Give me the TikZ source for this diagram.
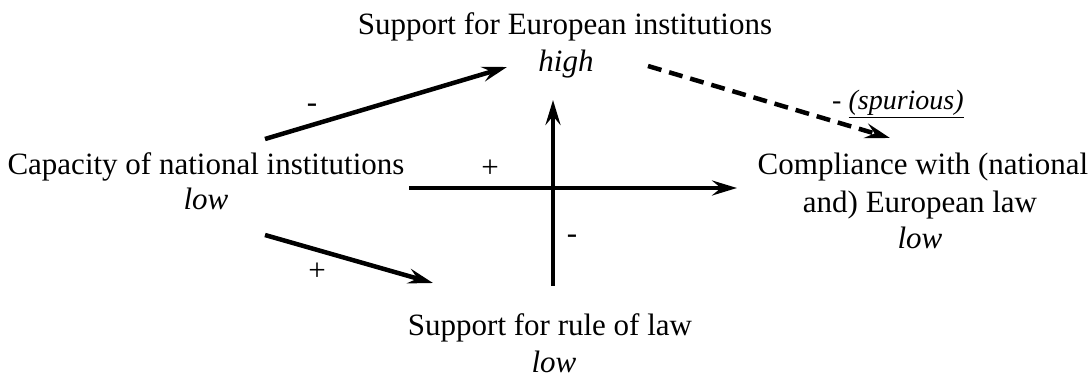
\documentclass[tikz,border=0pt]{standalone}
\usepackage{fontspec}
\setmainfont{Liberation Serif}
\usetikzlibrary{arrows.meta}
\tikzset{
  lbl/.style={inner sep=0pt, anchor=base, font=\fontsize{31}{37}\selectfont},
  sgn/.style={inner sep=0pt, anchor=base, font=\fontsize{31}{37}\selectfont},
  link/.style={line width=4.5pt, -{Stealth[length=25pt,width=15pt,inset=9pt]}},
  spur/.style={link, dash pattern=on 14pt off 8pt}
}
\begin{document}
\begin{tikzpicture}[x=1pt,y=-1pt]
\useasboundingbox (0,0) rectangle (1092,379);
% texts
\node[lbl] (eu) at (565,35) {Support for European institutions};
\node[lbl] (euv) at (566,72) {\textit{high}};
\node[lbl] (cap) at (206,175) {Capacity of national institutions};
\node[lbl] (capv) at (206,210) {\textit{low}};
\node[lbl] (comp1) at (923,175) {Compliance with (national};
\node[lbl] (comp2) at (920,213) {and) European law};
\node[lbl] (compv) at (920,249) {\textit{low}};
\node[lbl] (rol) at (550,335) {Support for rule of law};
\node[lbl] (rolv) at (554,372) {\textit{low}};
% arrow ends
\coordinate (a1s) at (265,139);
\coordinate (a1e) at (507,67);
\coordinate (a2s) at (265,235);
\coordinate (a2e) at (433,283);
\coordinate (hs) at (409,188);
\coordinate (he) at (737,188);
\coordinate (vs) at (553,286);
\coordinate (ve) at (553,100);
\coordinate (ds) at (648,66);
\coordinate (de) at (890,138);
% connectors
\draw[link] (a1s) -- (a1e);
\draw[link] (a2s) -- (a2e);
\draw[link] (hs) -- (he);
\draw[link] (vs) -- (ve);
\draw[spur] (ds) -- (de);
% signs
\node[sgn] (m1) at (312,113) {-};
\node[sgn] (p1) at (490,178) {+};
\node[sgn] (p2) at (317,280) {+};
\node[sgn] (m2) at (572,244) {-};
\node[sgn, anchor=base west, font=\fontsize{28}{34}\selectfont] (m3) at (832,110) {- \underline{\textit{(spurious)}}};
\end{tikzpicture}
\end{document}
